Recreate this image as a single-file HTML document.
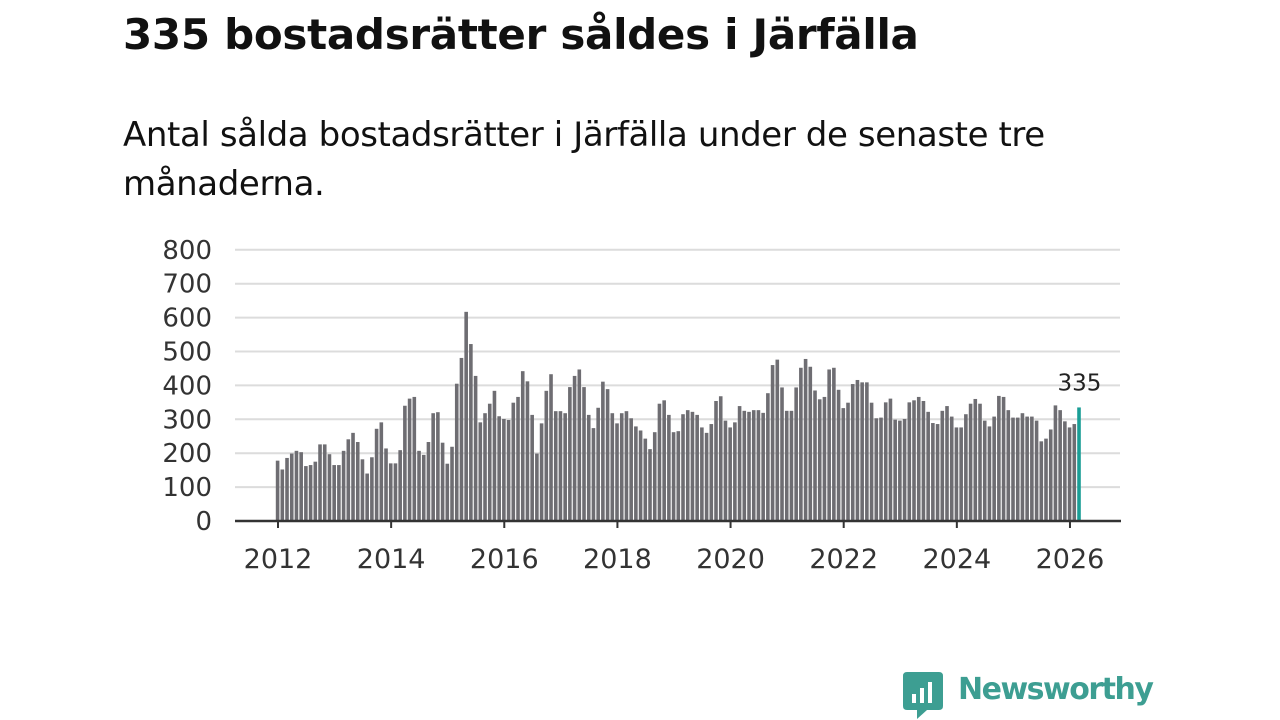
<!DOCTYPE html>
<html><head><meta charset="utf-8"><style>
body{margin:0;width:1280px;height:720px;background:#fff;overflow:hidden;font-family:"DejaVu Sans","Liberation Sans",sans-serif;}
#title{position:absolute;left:123px;top:10px;font-size:42px;font-weight:bold;color:#111;margin:0;letter-spacing:-0.3px}
#sub{position:absolute;left:123px;top:111px;width:1000px;font-size:34px;line-height:49px;color:#111;margin:0;letter-spacing:-0.4px}
svg{position:absolute;left:0;top:0}
</style></head><body>
<h1 id="title">335 bostadsrätter såldes i Järfälla</h1>
<p id="sub">Antal sålda bostadsrätter i Järfälla under de senaste tre månaderna.</p>
<svg id="chart" width="1280" height="720"></svg>
<script>
const values=[178,152,186,199,207,203,162,165,175,226,226,197,165,165,207,241,260,233,182,140,188,272,291,214,170,170,209,340,361,366,207,195,233,318,321,231,169,219,405,481,617,522,428,291,318,346,
384,309,301,298,349,366,442,412,313,199,288,384,433,324,324,318,395,428,447,395,313,274,334,411,389,318,288,318,324,303,279,267,243,212,262,346,356,313,262,265,315,327,322,313,
276,260,286,354,368,296,276,291,339,325,322,327,327,319,377,460,476,394,325,325,394,452,478,455,385,359,366,447,452,387,333,349,404,416,409,409,349,303,
305,350,361,299,296,301,350,356,366,354,322,289,286,325,339,308,276,276,315,346,360,346,296,279,308,369,366,327,305,305,318,308,308,296,235,243,270,341,327,294,276,286,335];
const startYear=2012, startMonth=0;
const yTicks=[0,100,200,300,400,500,600,700,800];
const xTicks=[2012,2014,2016,2018,2020,2022,2024,2026];
const NS="http://www.w3.org/2000/svg";
const svg=document.getElementById('chart');
const y=v=>521-v*0.339;
const x=t=>278+(t-2012)*56.57;
function mk(tag,attrs,parent){const e=document.createElementNS(NS,tag);for(const k in attrs)e.setAttribute(k,attrs[k]);(parent||svg).appendChild(e);return e;}
yTicks.forEach(v=>{
  if(v>0){const g=mk('line',{x1:235,x2:1120,y1:y(v),y2:y(v),stroke:'#dcdcdc','stroke-width':2});
  
  }
  const t=mk('text',{x:212,y:y(v)+9,'text-anchor':'end','font-size':26,fill:'#333','font-family':'"DejaVu Sans",sans-serif'});
  t.textContent=v;
  
  
});
values.forEach((v,i)=>{
  const t=startYear+(startMonth+i)/12;
  const last=i===values.length-1;
  const r=mk('rect',{x:x(t)-2.2,y:y(v),width:3.6,height:521-y(v),fill:last?'#1a9e96':'#6e6d72'});
  
  
  if(last){const l=mk('text',{x:x(t),y:y(v)-17,'text-anchor':'middle','font-size':23,fill:'#222','font-family':'"DejaVu Sans",sans-serif'});
  l.textContent=v;
  
  }
});
const base=mk('line',{x1:235,x2:1121,y1:521,y2:521,stroke:'#333','stroke-width':2.5});


xTicks.forEach(yr=>{
  const tk=mk('line',{x1:x(yr),x2:x(yr),y1:521,y2:528,stroke:'#333','stroke-width':2});
  
  
  const t=mk('text',{x:x(yr),y:568,'text-anchor':'middle','font-size':27,fill:'#333','font-family':'"DejaVu Sans",sans-serif'});
  t.textContent=yr;
  
  
});
</script>
<div style="position:absolute;left:903px;top:672px;">
<svg width="42" height="48" style="position:absolute;left:0;top:0">
<path d="M0 4 Q0 0 4 0 H36 Q40 0 40 4 V34 Q40 38 36 38 H24 L14 47 V38 H4 Q0 38 0 34Z" fill="#3d9e92"/>
<rect x="9" y="22" width="4" height="9" fill="#fff"/><rect x="17" y="16" width="4" height="15" fill="#fff"/><rect x="25" y="10" width="4" height="21" fill="#fff"/>
</svg>
<span style="position:absolute;left:55px;top:0px;font-family:'DejaVu Sans',sans-serif;font-size:30px;font-weight:bold;color:#3d9e92;white-space:nowrap;letter-spacing:-1.5px">Newsworthy</span>
</div>
</body></html>
